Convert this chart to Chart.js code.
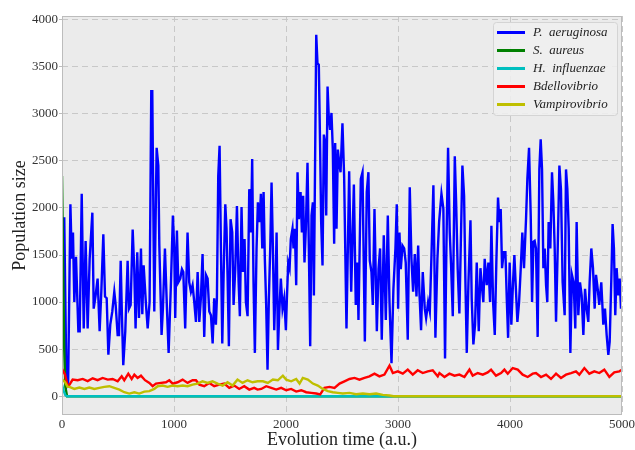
<!DOCTYPE html>
<html>
<head>
<meta charset="utf-8">
<title>Population size vs evolution time</title>
<script src="https://cdn.jsdelivr.net/npm/chart.js@4.4.1/dist/chart.umd.min.js"></script>
<style>
  html, body { margin: 0; padding: 0; background: #ffffff; }
  #wrap { width: 635px; height: 450px; }
</style>
</head>
<body>
<div id="wrap"><canvas id="popChart" width="635" height="450"></canvas></div>
<script>
// Axis ticks
const xTicks = [0, 1000, 2000, 3000, 4000, 5000];
const yTicks = [0, 500, 1000, 1500, 2000, 2500, 3000, 3500, 4000];

// Series: [time, population]
const aeruginosa = [
    [0,1000],[20,1900],[40,100],[55,150],[75,2040],[87,1460],[98,1740],[110,1000],[125,1480],[146,690],[158,690],[176,2150],[194,720],[211,1650],[229,720],[247,1460],[271,1950],[283,930],[300,1070],[318,1250],[336,690],[351,1110],[369,1720],[384,1060],[399,1040],[414,440],[431,760],[449,900],[467,1110],[479,970],[497,650],[509,650],[524,1440],[535,860],[547,330],[565,690],[586,1440],[598,930],[613,970],[631,1770],[645,1350],[657,720],[672,1530],[687,830],[705,1570],[717,870],[729,1390],[750,970],[765,720],[782,1000],[797,3240],[806,3240],[824,900],[845,2640],[860,2450],[869,1600],[889,650],[901,930],[919,1570],[937,930],[952,460],[973,1210],[990,1920],[1002,1570],[1011,830],[1026,1760],[1038,1210],[1056,1250],[1071,1350],[1083,1320],[1100,720],[1121,1740],[1136,1210],[1151,1110],[1166,1180],[1181,1000],[1196,790],
    [1211,1320],[1226,790],[1240,1040],[1255,1510],[1270,630],[1285,1290],[1300,1250],[1315,900],[1330,860],[1345,560],[1359,1040],[1374,760],[1383,1040],[1395,2340],[1407,2660],[1419,1570],[1431,560],[1443,1290],[1458,2040],[1469,1780],[1478,1290],[1490,530],[1505,1880],[1520,1740],[1532,970],[1547,1350],[1562,2020],[1577,1210],[1588,850],[1603,2010],[1615,1320],[1630,1670],[1642,1000],[1657,850],[1672,2200],[1687,1740],[1698,2520],[1710,1210],[1722,460],[1737,1570],[1749,2060],[1764,1850],[1776,2150],[1788,1570],[1800,2170],[1811,1460],[1823,970],[1835,280],[1847,1040],[1859,1570],[1871,2270],[1883,1570],[1895,700],[1907,1210],[1916,1740],[1928,490],[1939,860],[1954,1250],[1969,930],[1984,1040],[1999,700],[2008,1040],[2020,1420],[2032,1360],[2043,1670],[2058,1780],[2067,1570],[2079,1780],[2091,1180],[2103,2380],[2115,1880],[2130,2170],[2142,1740],[2153,2130],[2165,1420],[2177,1780],[2192,2480],[2204,1570],[2216,530],[2228,1920],[2240,2060],[2249,1070],[2258,2270],[2270,3840],[2281,3540],[2293,3520],[2305,2620],[2314,1850],[2326,1390],[2338,2780],[2350,2690],[2359,1920],[2371,3290],[2382,2970],[2394,2830],[2406,3010],[2418,2620],[2430,1620],[2439,2690],[2451,1780],[2463,2620],[2475,2480],[2487,2380],[2504,2900],
    [2519,2340],[2540,720],[2564,2390],[2582,1110],[2606,2250],[2623,970],[2638,1420],[2647,810],[2668,2310],[2683,2380],[2704,580],[2721,2170],[2736,2380],[2748,1440],[2763,1320],[2775,970],[2790,1990],[2811,690],[2826,1350],[2840,1570],[2855,600],[2873,1710],[2891,810],[2909,1920],[2924,1000],[2942,350],[2959,1140],[2977,1570],[2989,2040],[3001,930],[3013,1740],[3025,1350],[3040,1600],[3055,1570],[3069,1420],[3087,600],[3105,2220],[3120,1460],[3135,1110],[3150,1510],[3165,1060],[3180,1600],[3191,1110],[3206,700],[3221,1320],[3239,930],[3251,830],[3269,1000],[3284,900],[3298,1460],[3316,2240],[3334,620],[3352,1460],[3367,1850],[3388,2150],[3405,1990],[3420,400],[3432,1570],[3447,2640],[3462,1740],[3474,1390],[3489,850],[3507,2550],[3519,2060],[3533,1350],[3548,880],[3560,1570],[3575,2450],[3590,2130],[3602,1210],[3614,460],[3629,1210],[3647,1870],[3658,1040],[3673,550],[3688,760],[3703,1420],
    [3721,690],[3736,1360],[3751,1140],[3762,1000],[3774,1460],[3792,1180],[3807,1420],[3822,1000],[3834,1810],[3849,1000],[3864,650],[3878,1420],[3893,2110],[3905,1850],[3917,1990],[3929,1360],[3944,1530],[3959,1530],[3971,1040],[3983,620],[3997,1420],[4012,760],[4027,1210],[4039,1500],[4051,1180],[4066,790],[4081,1000],[4096,1360],[4110,1740],[4125,1360],[4143,1880],[4155,2310],[4170,2640],[4185,1920],[4197,1000],[4209,1640],[4220,1650],[4232,1570],[4247,630],[4262,2410],[4274,2730],[4286,2410],[4298,1360],[4310,1570],[4322,1180],[4333,1000],[4345,1850],[4360,1570],[4375,2380],[4387,2060],[4399,1570],[4411,790],[4426,1570],[4441,2450],[4455,2200],[4470,1210],[4488,860],[4500,2410],[4512,2200],[4524,1780],[4539,460],[4553,1290],[4568,1210],[4583,720],[4595,1850],[4610,860],[4625,1210],[4640,1070],[4655,650],[4670,1140],[4684,930],[4699,790],[4711,1210],[4726,1570],[4741,1360],[4756,930],[4768,1290],[4783,1140],[4797,970],[4815,1210],[4833,760],[4848,930],[4863,650],[4878,440],[4890,580],[4904,1210],[4916,1830],[4928,1570],[4940,860],[4952,1360],[4967,1070],[4979,1250],[4991,930],[5000,1200]
];

const aureus = [[0,2340],[10,1400],[20,500],[30,100],[45,0],[5000,0]];

const influenzae = [[0,120],[15,60],[30,10],[45,0],[5000,0]];

const bdellovibrio = [
    [0,290],[27,230],[50,110],[66,120],[95,176],[140,170],[185,183],[229,160],[274,190],[318,170],[363,194],[408,176],[452,183],[497,158],[533,211],[556,170],[592,239],[622,183],[646,229],[675,194],[705,218],[741,170],[780,141],[809,106],[839,134],[884,141],[928,148],[958,169],[988,134],[1032,148],[1077,176],[1121,141],[1166,169],[1196,169],[1226,123],[1270,106],[1315,141],[1359,106],[1404,123],[1449,134],[1493,88],[1538,113],[1582,77],[1627,106],[1672,70],[1716,88],[1746,70],[1779,77],[1823,106],[1868,88],[1913,70],[1957,88],[2002,63],[2046,77],[2091,49],[2136,63],[2180,42],[2225,35],[2270,28],[2305,18],[2344,88],[2388,99],[2433,88],[2478,134],[2522,158],[2567,183],[2612,194],[2656,176],[2701,194],[2745,211],[2790,239],[2834,211],[2879,229],[2924,324],[2954,246],[2998,264],[3043,239],[3087,282],[3132,229],[3176,275],[3221,246],[3266,264],[3310,275],[3355,211],[3370,246],[3415,204],[3459,239],[3504,218],[3548,229],[3593,204],[3638,282],[3667,218],[3712,246],[3757,229],[3801,253],[3831,282],[3875,218],[3920,246],[3950,282],[3980,239],[4024,299],[4069,282],[4113,229],[4158,204],[4203,239],[4232,246],[4277,204],[4322,229],[4366,183],[4411,239],[4455,194],[4500,229],[4545,246],[4589,264],[4619,229],[4664,299],[4708,239],[4753,264],[4797,246],[4842,282],[4887,204],[4931,253],[4976,264],[5000,282]
];

const vampirovibrio = [
    [0,180],[27,150],[50,100],[66,99],[110,77],[155,92],[200,77],[244,92],[289,77],[333,88],[378,99],[423,106],[467,88],[512,70],[556,42],[601,28],[646,42],[690,28],[735,49],[780,53],[824,77],[854,106],[899,113],[943,99],[988,113],[1032,106],[1077,113],[1121,106],[1166,123],[1210,134],[1255,158],[1300,141],[1344,158],[1389,134],[1434,113],[1478,148],[1523,113],[1567,176],[1612,141],[1657,169],[1701,148],[1746,158],[1794,158],[1838,141],[1883,176],[1927,169],[1972,218],[2002,176],[2046,158],[2091,183],[2121,134],[2150,194],[2195,176],[2240,134],[2284,113],[2329,77],[2374,53],[2418,42],[2463,35],[2507,28],[2567,35],[2626,21],[2686,28],[2745,21],[2805,28],[2864,14],[2924,7],[2960,0],[5000,0]
];

const seriesNames = ['P.  aeruginosa', 'S.  aureus', 'H.  influenzae', 'Bdellovibrio', 'Vampirovibrio'];
const seriesColors = ['#0000ff', '#008000', '#00bfbf', '#ff0000', '#bfbf00'];
const seriesData = [aeruginosa, aureus, influenzae, bdellovibrio, vampirovibrio];

const toPoints = arr => arr.map(p => ({x: p[0], y: p[1]}));

// Plot background, frame and an in-plot legend (matplotlib look)
const framePlugin = {
    id: 'frame',
    beforeDraw(chart) {
        const {ctx, chartArea: a} = chart;
        ctx.save();
        ctx.fillStyle = '#ebebeb';
        ctx.fillRect(a.left, a.top, a.right - a.left, a.bottom - a.top);
        ctx.restore();
    },
    afterDraw(chart) {
        const {ctx, chartArea: a} = chart;
        ctx.save();
        ctx.strokeStyle = '#bcbcbc';
        ctx.lineWidth = 1;
        ctx.strokeRect(a.left + 0.5, a.top + 0.5, a.right - a.left - 1, a.bottom - a.top - 1);

        // legend box
        const w = 124, h = 93;
        const bx = a.right - 5 - w, by = a.top + 6;
        ctx.beginPath();
        ctx.roundRect(bx + 0.5, by + 0.5, w, h, 3);
        ctx.fillStyle = 'rgba(240,240,240,0.85)';
        ctx.fill();
        ctx.strokeStyle = '#d4d4d4';
        ctx.stroke();

        ctx.font = 'italic 13px "Liberation Serif", serif';
        ctx.textBaseline = 'middle';
        ctx.textAlign = 'left';
        chart.data.datasets.forEach((ds, i) => {
            const yy = by + 10.5 + i * 18;
            ctx.beginPath();
            ctx.moveTo(bx + 4, yy);
            ctx.lineTo(bx + 32, yy);
            ctx.strokeStyle = ds.borderColor;
            ctx.lineWidth = 3;
            ctx.stroke();
            ctx.fillStyle = '#222222';
            ctx.fillText(ds.label, bx + 40, yy);
        });
        ctx.restore();
    }
};

const gridStyle = {
    color: '#c8c8c8',
    lineWidth: 1,
    tickColor: '#bcbcbc',
    tickBorderDash: []
};

new Chart(document.getElementById('popChart').getContext('2d'), {
    type: 'line',
    data: {
        datasets: seriesData.map((arr, i) => ({
            label: seriesNames[i],
            data: toPoints(arr),
            borderColor: seriesColors[i],
            backgroundColor: seriesColors[i],
            borderWidth: 2.4,
            pointRadius: 0,
            tension: 0,
            fill: false,
            order: seriesData.length - i
        }))
    },
    options: {
        responsive: false,
        animation: false,
        events: [],
        layout: {
            padding: {top: 16, right: 13, left: 0, bottom: 0}
        },
        scales: {
            x: {
                type: 'linear',
                min: 0,
                max: 5000,
                afterBuildTicks: axis => { axis.ticks = xTicks.map(v => ({value: v})); },
                afterFit: scale => {
                    scale.height = 35;
                    scale.paddingLeft = 0;
                    scale.paddingRight = 0;
                },
                grid: Object.assign({}, gridStyle, {drawTicks: false}),
                border: {display: false, dash: [6, 4]},
                ticks: {
                    padding: 2,
                    color: '#333333',
                    font: {family: '"Liberation Serif", serif', size: 13},
                    callback: v => String(v)
                },
                title: {
                    display: true,
                    text: 'Evolution time (a.u.)',
                    color: '#222222',
                    font: {family: '"Liberation Serif", serif', size: 18, lineHeight: 1.1},
                    padding: {top: 0, bottom: 0}
                }
            },
            y: {
                type: 'linear',
                min: -200,
                max: 4040,
                afterBuildTicks: axis => { axis.ticks = yTicks.map(v => ({value: v})); },
                afterFit: scale => {
                    scale.width = 62;
                    scale.paddingTop = 0;
                    scale.paddingBottom = 0;
                },
                grid: Object.assign({}, gridStyle, {drawTicks: true, tickLength: 3}),
                border: {display: false, dash: [6, 4]},
                ticks: {
                    padding: 1,
                    color: '#333333',
                    font: {family: '"Liberation Serif", serif', size: 13},
                    callback: v => String(v)
                },
                title: {
                    display: true,
                    text: 'Population size',
                    color: '#222222',
                    font: {family: '"Liberation Serif", serif', size: 18, lineHeight: 1.1},
                    padding: {top: 10, bottom: 0}
                }
            }
        },
        plugins: {
            legend: {display: false},
            tooltip: {enabled: false}
        }
    },
    plugins: [framePlugin]
});
</script>
</body>
</html>
